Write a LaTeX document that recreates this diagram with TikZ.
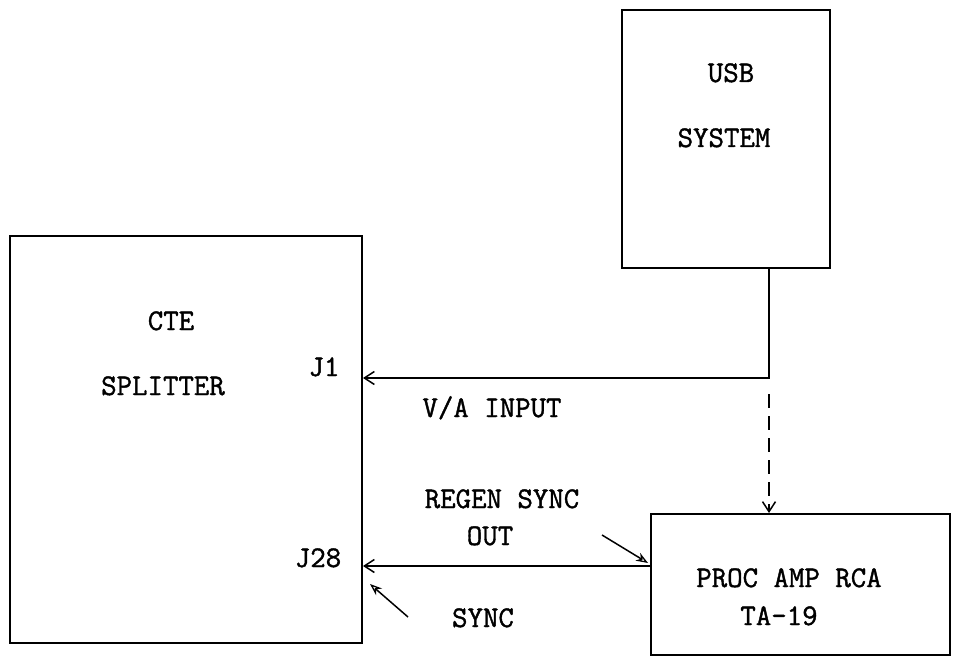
\documentclass[tikz,border=0pt]{standalone}
\usepackage{fontspec}
\newfontfamily\tw{Latin Modern Mono}[FakeBold=1.3]
\usetikzlibrary{arrows.meta}
\begin{document}
\begin{tikzpicture}[x=1pt,y=-1pt,
  box/.style={draw,line width=2pt,inner sep=0pt},
  conn/.style={line width=1.8pt,-{Straight Barb[length=10pt,width=13pt,line width=1.5pt]}},
  ptr/.style={line width=1.5pt,-{Stealth[length=12pt,width=9pt,open,line width=1.3pt]}},
  lbl/.style={font=\fontsize{30}{30}\selectfont\tw,inner sep=0pt,anchor=base}]
\useasboundingbox (0,0) rectangle (963,660);
% boxes
\node[box,minimum width=352pt,minimum height=407pt] (cte) at (186,439.5) {};
\node[box,minimum width=208pt,minimum height=258pt] (usb) at (726,139) {};
\node[box,minimum width=299pt,minimum height=141pt] (proc) at (800.5,584.5) {};
% texts
\node[lbl] (t1) at (731,82) {USB};
\node[lbl] (t2) at (724,147) {SYSTEM};
\node[lbl] (t3) at (171,330) {CTE};
\node[lbl] (t4) at (163,395) {SPLITTER};
\node[lbl] (t5) at (324,376) {J1};
\node[lbl] (t6) at (318,567) {J28};
\node[lbl] (t7) at (492,417) {V/A INPUT};
\node[lbl] (t8) at (502,508) {REGEN SYNC};
\node[lbl] (t9) at (490,545) {OUT};
\node[lbl] (t10) at (483,627) {SYNC};
\node[lbl] (t11) at (789,587) {PROC AMP RCA};
\node[lbl] (t12) at (779,625) {TA-19};
% connectors
\coordinate (bend) at (769,378);
\coordinate (j28) at (362,566);
\draw[conn] (usb.south -| bend) -- (bend) -- (cte.east |- bend);
\draw[conn,dashed,dash pattern=on 14pt off 8pt] ([yshift=-16pt]bend) -- (proc.north -| bend);
\draw[conn] (proc.west |- j28) -- (cte.east |- j28);
\coordinate (p1s) at (602,535);
\coordinate (p1e) at (648,563);
\draw[ptr] (p1s) -- (p1e);
\coordinate (p2s) at (408,617);
\coordinate (p2e) at (370,584);
\draw[ptr] (p2s) -- (p2e);
\end{tikzpicture}
\end{document}
